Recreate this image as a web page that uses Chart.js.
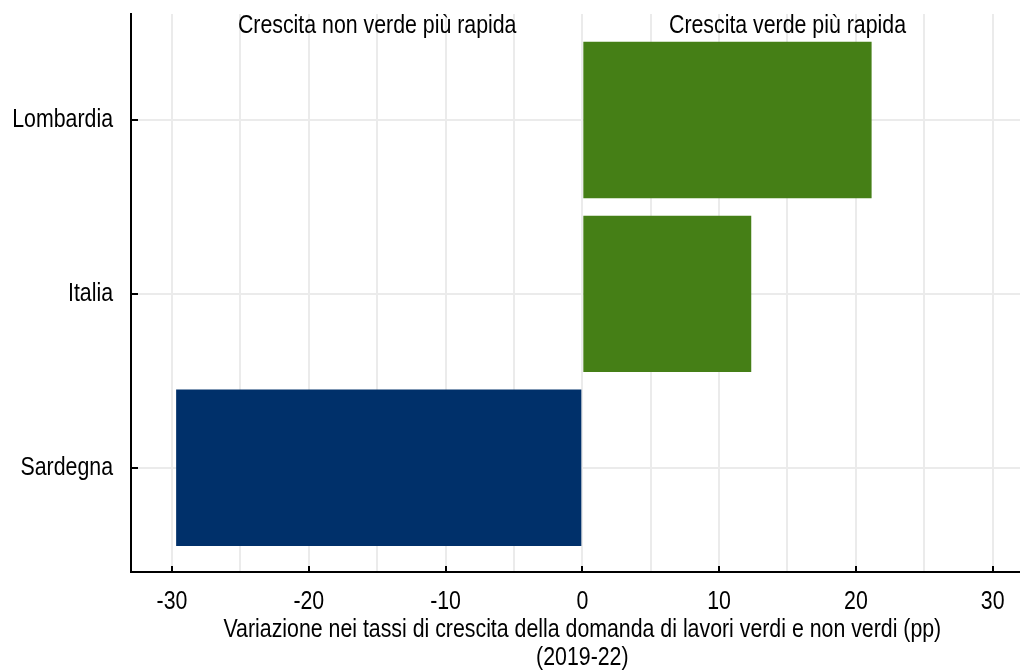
<!DOCTYPE html>
<html>
<head>
<meta charset="utf-8">
<script src="https://cdn.jsdelivr.net/npm/chart.js@4.4.1/dist/chart.umd.min.js"></script>
<style>
  html, body { margin: 0; padding: 0; background: #fff; }
  #wrap { width: 1020px; height: 671px; position: relative; }
</style>
</head>
<body>
<div id="wrap"><canvas id="c" width="1020" height="671"></canvas></div>
<script>
// ---- data ----
const categories = ['Lombardia', 'Italia', 'Sardegna'];
const values = [21.15, 12.35, -29.7];
const barColors = ['#457f16', '#457f16', '#00306a'];
const xTickValues = [-30, -20, -10, 0, 10, 20, 30];
const xGridValues = [-30, -25, -20, -15, -10, -5, 0, 5, 10, 15, 20, 25, 30];
const annotationTexts = ['Crescita non verde più rapida', 'Crescita verde più rapida'];
const annotationAt = [-15, 15];
const xTitle = ['Variazione nei tassi di crescita della domanda di lavori verdi e non verdi (pp)', '(2019-22)'];

const FONT = "'Liberation Sans', Arial, sans-serif";
const NARROW = 0.82; // horizontal condensing, like Arial Narrow

const canvas = document.getElementById('c');
const ctx2d = canvas.getContext('2d');
const origFill = ctx2d.fillText.bind(ctx2d);
ctx2d.fillText = function (text, x, y) {
  this.save();
  this.translate(x, y);
  this.scale(NARROW, 1);
  origFill(text, 0, 0);
  this.restore();
};

const innerTicks = {
  id: 'innerTicks',
  afterDraw(chart) {
    const ctx = chart.ctx;
    const xs = chart.scales.x, ys = chart.scales.y;
    const a = chart.chartArea;
    ctx.save();
    ctx.strokeStyle = '#000';
    ctx.lineWidth = 2;
    xTickValues.forEach(v => {
      const px = Math.round(xs.getPixelForValue(v));
      ctx.beginPath(); ctx.moveTo(px, a.bottom); ctx.lineTo(px, a.bottom - 6); ctx.stroke();
    });
    categories.forEach((c, i) => {
      const py = Math.round(ys.getPixelForValue(i));
      ctx.beginPath(); ctx.moveTo(a.left, py); ctx.lineTo(a.left + 7, py); ctx.stroke();
    });
    ctx.fillStyle = '#000';
    ctx.font = '26px ' + FONT;
    ctx.textAlign = 'center';
    ctx.textBaseline = 'alphabetic';
    annotationTexts.forEach((t, i) => {
      ctx.fillText(t, xs.getPixelForValue(annotationAt[i]), a.top + 19);
    });
    // axis title, centred on the zero line as in the original
    const tx = xs.getPixelForValue(0);
    xTitle.forEach((t, i) => {
      ctx.fillText(t, tx, a.bottom + 65 + i * 28);
    });
    ctx.restore();
  }
};

new Chart(canvas, {
  type: 'bar',
  data: {
    datasets: [{
      data: categories.map((c, i) => ({ x: values[i], y: i })),
      backgroundColor: barColors,
      borderWidth: 0,
      categoryPercentage: 0.9,
      barPercentage: 1.0
    }]
  },
  options: {
    indexAxis: 'y',
    responsive: false,
    animation: false,
    devicePixelRatio: 1,
    layout: { padding: { top: 14, left: 0, right: 0, bottom: 0 } },
    plugins: { legend: { display: false }, tooltip: { enabled: false } },
    scales: {
      x: {
        type: 'linear',
        min: -33, max: 32,
        offset: false,
        border: { color: '#000', width: 2 },
        grid: { color: '#ebebeb', lineWidth: 2, drawTicks: false },
        afterBuildTicks: (s) => { s.ticks = xGridValues.map(v => ({ value: v })); },
        ticks: {
          autoSkip: false, maxRotation: 0,
          color: '#000', padding: 14,
          font: { family: FONT, size: 26 },
          callback: (v) => (xTickValues.includes(v) ? String(v) : '')
        },
        title: { display: false },
        afterFit: (s) => { s.height = 99; s.paddingLeft = 0; s.paddingRight = 0; }
      },
      y: {
        type: 'linear',
        reverse: true,
        offset: false,
        min: -0.61, max: 2.6,
        border: { color: '#000', width: 2 },
        grid: { color: '#ebebeb', lineWidth: 2, drawTicks: false, offset: false },
        afterBuildTicks: (s) => { s.ticks = categories.map((c, i) => ({ value: i })); },
        ticks: {
          autoSkip: false, color: '#000', padding: 18,
          font: { family: FONT, size: 26 },
          callback: (v) => categories[v] ?? ''
        },
        afterFit: (s) => { s.width = 131; s.paddingTop = 0; s.paddingBottom = 0; }
      }
    }
  },
  plugins: [innerTicks]
});
</script>
</body>
</html>
